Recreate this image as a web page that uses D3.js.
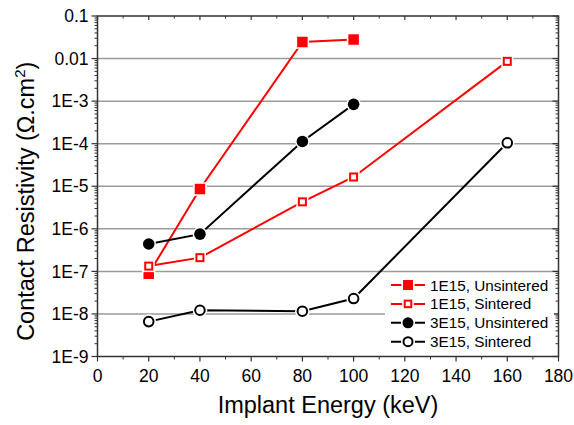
<!DOCTYPE html>
<html>
<head>
<meta charset="utf-8">
<script src="https://cdnjs.cloudflare.com/ajax/libs/d3/7.8.5/d3.min.js"></script>
<style>
  body { margin: 0; background: #fff; }
  svg text { font-family: "Liberation Sans", Arial, sans-serif; fill: #000; }
</style>
</head>
<body>
<svg id="chart" width="574" height="425"></svg>
<script>
// energies (keV)
energyShort = [20, 40, 80, 100];
energyLong = [20, 40, 80, 100, 160];

// contact resistivity (ohm.cm^2)
unsintered1E15 = [8.8e-8, 8.6e-6, 0.0245, 0.028];
sintered1E15 = [1.33e-7, 2.1e-7, 4.3e-6, 1.65e-5, 0.0086];
unsintered3E15 = [4.4e-7, 7.5e-7, 1.13e-4, 8.4e-4];
sintered3E15 = [6.6e-9, 1.22e-8, 1.16e-8, 2.3e-8, 1.05e-4];

yTicks = [1e-9, 1e-8, 1e-7, 1e-6, 1e-5, 1e-4, 1e-3, 0.01, 0.1];
yLabels = ["1E-9", "1E-8", "1E-7", "1E-6", "1E-5", "1E-4", "1E-3", "0.01", "0.1"];
xTicks = [0, 20, 40, 60, 80, 100, 120, 140, 160, 180];

series = [
    {name: "1E15, Unsintered", x: energyShort, y: unsintered1E15, color: "#ff0000", shape: "square", filled: true},
    {name: "1E15, Sintered", x: energyLong, y: sintered1E15, color: "#ff0000", shape: "square", filled: false},
    {name: "3E15, Unsintered", x: energyShort, y: unsintered3E15, color: "#000000", shape: "circle", filled: true},
    {name: "3E15, Sintered", x: energyLong, y: sintered3E15, color: "#000000", shape: "circle", filled: false}
];

svg = d3.select("#chart");
left = 97.5; right = 558.5; top_ = 16; bottom = 356.5;

x = d3.scaleLinear().domain([0, 180]).range([left, right]);
y = d3.scaleLog().domain([1e-9, 0.1]).range([bottom, top_]);

// grid lines
svg.append("g").selectAll("line")
    .data(yTicks.slice(1, -1))
    .join("line")
    .attr("x1", left).attr("x2", right)
    .attr("y1", d => y(d)).attr("y2", d => y(d))
    .attr("stroke", "#9a9a9a")
    .attr("stroke-width", 1.5);

// minor log ticks
minor = [];
for (k = -9; k < -1; k++) {
    for (m = 2; m <= 9; m++) minor.push(m * Math.pow(10, k));
}

axisColor = "#333";
axes = svg.append("g");

// left axis: ticks outward
axes.selectAll(".lminor").data(minor).join("line")
    .attr("x1", left - 3).attr("x2", left)
    .attr("y1", d => y(d)).attr("y2", d => y(d))
    .attr("stroke", axisColor).attr("stroke-width", 1);
axes.selectAll(".lmajor").data(yTicks).join("line")
    .attr("x1", left - 6).attr("x2", left)
    .attr("y1", d => y(d)).attr("y2", d => y(d))
    .attr("stroke", axisColor).attr("stroke-width", 1.2);

// right axis: ticks inward
axes.selectAll(".rminor").data(minor).join("line")
    .attr("x1", right - 3).attr("x2", right)
    .attr("y1", d => y(d)).attr("y2", d => y(d))
    .attr("stroke", axisColor).attr("stroke-width", 1);
axes.selectAll(".rmajor").data(yTicks).join("line")
    .attr("x1", right - 6).attr("x2", right)
    .attr("y1", d => y(d)).attr("y2", d => y(d))
    .attr("stroke", axisColor).attr("stroke-width", 1.2);

// bottom axis ticks outward, top axis inward
xMinor = d3.range(10, 180, 20);
axes.selectAll(".bmajor").data(xTicks).join("line")
    .attr("x1", d => x(d)).attr("x2", d => x(d))
    .attr("y1", bottom).attr("y2", bottom + 5)
    .attr("stroke", axisColor).attr("stroke-width", 1.2);
axes.selectAll(".bminor").data(xMinor).join("line")
    .attr("x1", d => x(d)).attr("x2", d => x(d))
    .attr("y1", bottom).attr("y2", bottom + 3)
    .attr("stroke", axisColor).attr("stroke-width", 1);
axes.selectAll(".tmajor").data(xTicks).join("line")
    .attr("x1", d => x(d)).attr("x2", d => x(d))
    .attr("y1", top_).attr("y2", top_ + 4)
    .attr("stroke", axisColor).attr("stroke-width", 1.2);
axes.selectAll(".tminor").data(xMinor).join("line")
    .attr("x1", d => x(d)).attr("x2", d => x(d))
    .attr("y1", top_).attr("y2", top_ + 2.5)
    .attr("stroke", axisColor).attr("stroke-width", 1);

axes.append("rect")
    .attr("x", left).attr("y", top_)
    .attr("width", right - left).attr("height", bottom - top_)
    .attr("fill", "none")
    .attr("stroke", axisColor)
    .attr("stroke-width", 1.5);

// tick labels
svg.append("g").selectAll("text")
    .data(yTicks)
    .join("text")
    .attr("x", left - 9)
    .attr("y", d => y(d))
    .attr("dy", "0.35em")
    .attr("text-anchor", "end")
    .attr("font-size", 17.5)
    .text((d, i) => yLabels[i]);

svg.append("g").selectAll("text")
    .data(xTicks)
    .join("text")
    .attr("x", d => x(d))
    .attr("y", 381.5)
    .attr("text-anchor", "middle")
    .attr("font-size", 17.5)
    .text(d => d);

// axis titles
svg.append("text")
    .attr("x", (left + right) / 2)
    .attr("y", 413)
    .attr("text-anchor", "middle")
    .attr("font-size", 23.5)
    .text("Implant Energy (keV)");

yTitle = svg.append("text")
    .attr("transform", `translate(34, ${(top_ + bottom) / 2 + 15}) rotate(-90)`)
    .attr("text-anchor", "middle")
    .attr("font-size", 23.5);
yTitle.append("tspan").text("Contact Resistivity (\u03A9.cm");
yTitle.append("tspan").attr("dy", -9).attr("font-size", 15).text("2");
yTitle.append("tspan").attr("dy", 9).text(")");

// markers
function drawMarker(g, s, cx, cy, scale) {
    if (s.shape === "square") {
        size = s.filled ? 10.5 * scale : 9 * scale;
        g.append("rect")
            .attr("x", cx - size / 2 - 1.5).attr("y", cy - size / 2 - 1.5)
            .attr("width", size + 3).attr("height", size + 3)
            .attr("fill", "#fff");
        g.append("rect")
            .attr("x", cx - size / 2 + (s.filled ? 0 : 1)).attr("y", cy - size / 2 + (s.filled ? 0 : 1))
            .attr("width", size - (s.filled ? 0 : 2)).attr("height", size - (s.filled ? 0 : 2))
            .attr("fill", s.filled ? s.color : "#fff")
            .attr("stroke", s.filled ? "none" : s.color)
            .attr("stroke-width", 2);
    } else {
        r = 5.8 * scale;
        g.append("circle")
            .attr("cx", cx).attr("cy", cy).attr("r", r + 1.5)
            .attr("fill", "#fff");
        g.append("circle")
            .attr("cx", cx).attr("cy", cy).attr("r", s.filled ? r : r - 1)
            .attr("fill", s.filled ? s.color : "#fff")
            .attr("stroke", s.filled ? "none" : s.color)
            .attr("stroke-width", 2);
    }
}

line = d3.line().x(d => x(d[0])).y(d => y(d[1]));

series.forEach(s => {
    pts = s.x.map((v, i) => [v, s.y[i]]);
    svg.append("path")
        .datum(pts)
        .attr("d", line)
        .attr("fill", "none")
        .attr("stroke", s.color)
        .attr("stroke-width", 2);
});

series.forEach(s => {
    g = svg.append("g");
    s.x.forEach((v, i) => drawMarker(g, s, x(v), y(s.y[i]), 1));
});

// legend
legend = svg.append("g");
legend.append("rect")
    .attr("x", 385).attr("y", 274)
    .attr("width", 169).attr("height", 79)
    .attr("fill", "#fff");
series.forEach((s, i) => {
    ly = 285 + i * 18.9;
    legend.append("line")
        .attr("x1", 391).attr("x2", 425)
        .attr("y1", ly).attr("y2", ly)
        .attr("stroke", s.color).attr("stroke-width", 2);
    drawMarker(legend, s, 408, ly, 0.95);
    legend.append("text")
        .attr("x", 430).attr("y", ly)
        .attr("dy", "0.36em")
        .attr("font-size", 15.3)
        .text(s.name);
});
</script>
</body>
</html>
